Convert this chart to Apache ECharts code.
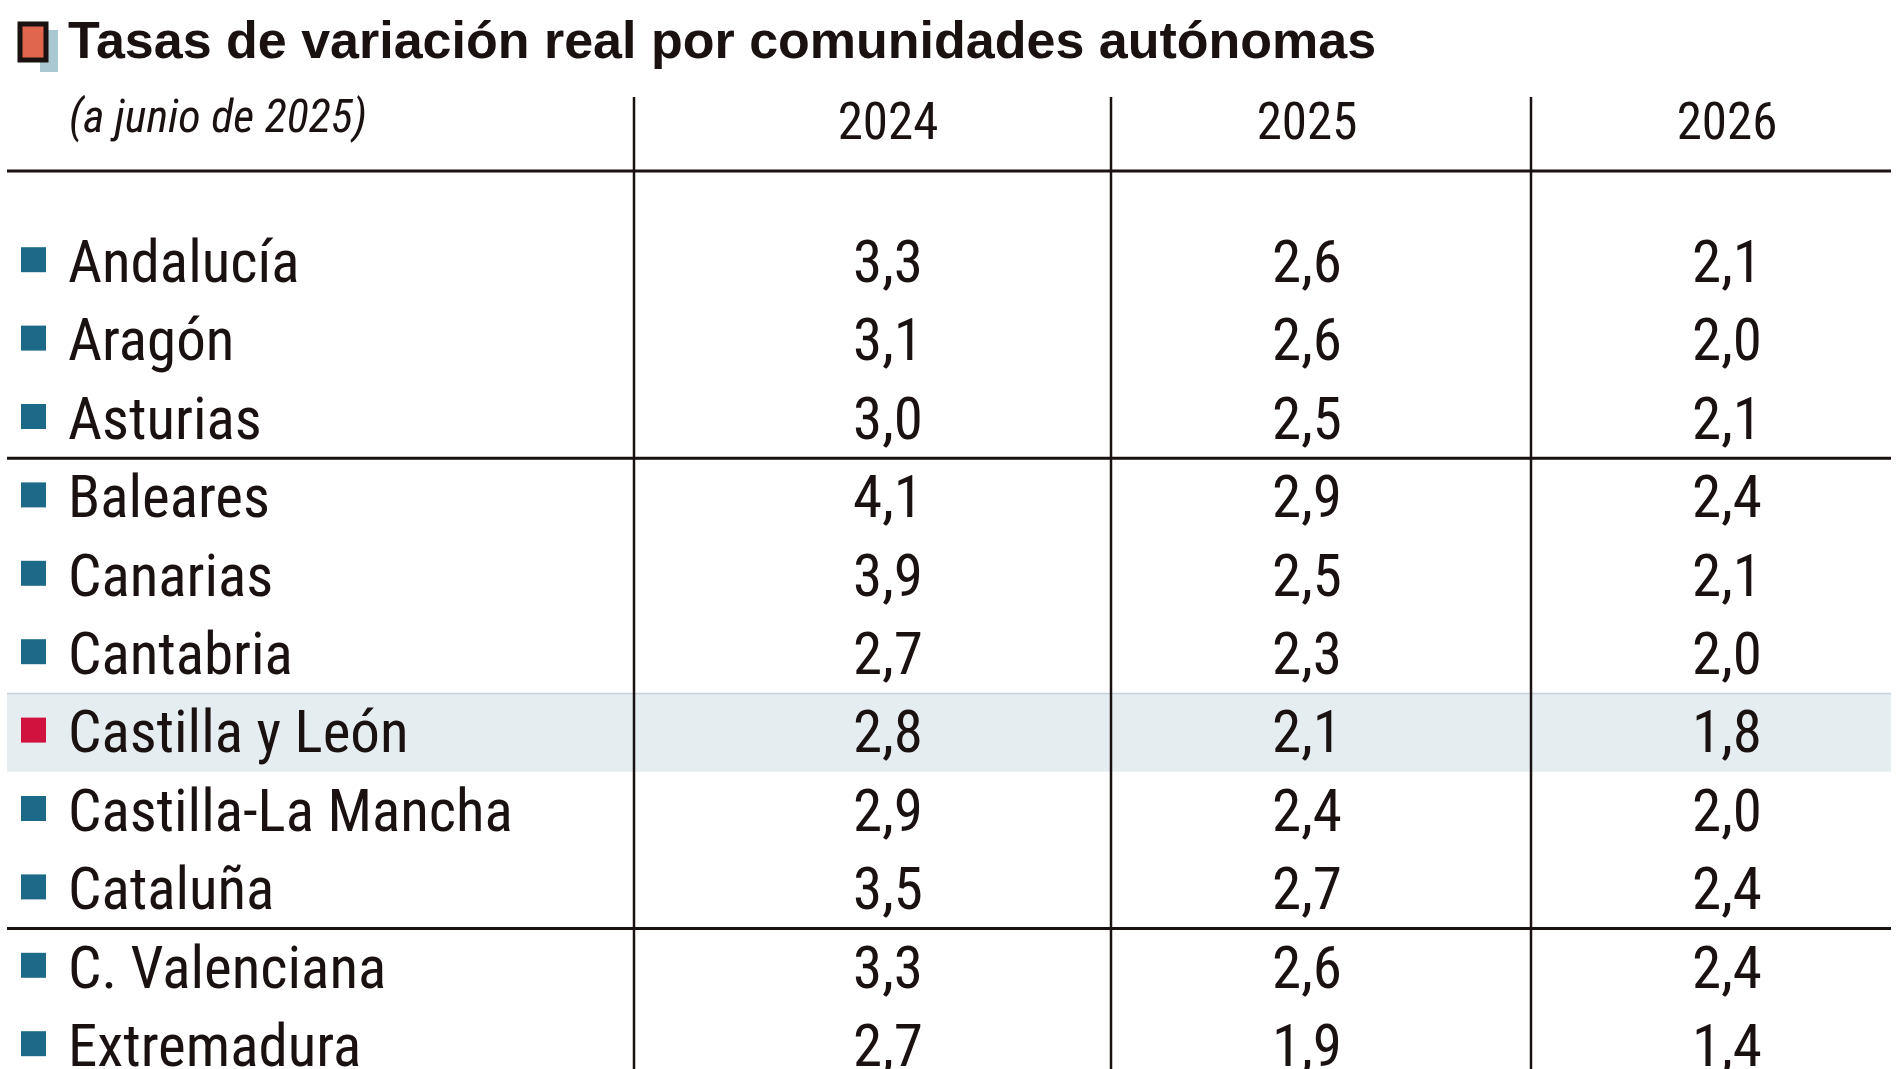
<!DOCTYPE html>
<html><head><meta charset="utf-8">
<script src="https://cdn.jsdelivr.net/npm/echarts@6/dist/echarts.min.js"></script>
<style>html,body{margin:0;padding:0;background:#fff}#c{width:1900px;height:1069px}</style>
</head><body><div id="c"></div>
<script>
const regions = ['Andalucía','Aragón','Asturias','Baleares','Canarias','Cantabria','Castilla y León','Castilla-La Mancha','Cataluña','C. Valenciana','Extremadura'];
const years = ['2024','2025','2026'];
const v2024 = ['3,3','3,1','3,0','4,1','3,9','2,7','2,8','2,9','3,5','3,3','2,7'];
const v2025 = ['2,6','2,6','2,5','2,9','2,5','2,3','2,1','2,4','2,7','2,6','1,9'];
const v2026 = ['2,1','2,0','2,1','2,4','2,1','2,0','1,8','2,0','2,4','2,4','1,4'];
const highlight = 'Castilla y León';
const groupEnds = [2, 8];

const FONT = '"Roboto Condensed","Liberation Sans Narrow","Liberation Sans",Arial,sans-serif';
const colX = [888, 1307, 1727];
const lineX = [634, 1111, 1531];
const chart = echarts.init(document.getElementById('c'));
const cols = [v2024, v2025, v2026];
const data = regions.map((r, i) => [0, i]);

chart.setOption({
  animation: false,
  grid: {left: 0, right: 0, top: 223, bottom: 0},
  xAxis: {type: 'value', min: 0, max: 1900, show: false},
  yAxis: {type: 'value', min: -0.5, max: -0.5 + 846 / 78.4, inverse: true, show: false},
  graphic: [
    {type: 'rect', shape: {x: 40, y: 30, width: 18, height: 42}, style: {fill: '#a9c8d2'}},
    {type: 'rect', shape: {x: 20, y: 24, width: 26, height: 36}, style: {fill: '#e0664e', stroke: '#1a1111', lineWidth: 5}},
    {type: 'text', left: 68, top: 18, style: {text: 'Tasas de variación real por comunidades autónomas', font: 'bold 52px "Liberation Sans",Arial,sans-serif', fill: '#1a1111'}},
    {type: 'text', left: 69, top: 97, style: {text: '(a junio de 2025)', font: 'italic 46px ' + FONT, fill: '#1a1111'}},
    ...years.map((y, k) => ({type: 'text', x: colX[k], y: 126, style: {text: y, font: '51px ' + FONT, fill: '#1a1111', align: 'center', verticalAlign: 'middle'}})),
    {type: 'line', shape: {x1: 7, y1: 171, x2: 1891, y2: 171}, style: {stroke: '#1a1111', lineWidth: 3}},
    ...lineX.map(x => ({type: 'line', z: 10, shape: {x1: x, y1: 97, x2: x, y2: 1069}, style: {stroke: '#1a1111', lineWidth: 2.5}}))
  ],
  series: [{
    type: 'custom',
    data: data,
    clip: false,
    renderItem: function (params, api) {
      const i = api.value(1);
      const cy = api.coord([0, i])[1];
      const band = api.size([0, 1])[1];
      const children = [];
      const isH = regions[i] === highlight;
      if (isH) children.push({type: 'rect', shape: {x: 7, y: cy - band / 2, width: 1884, height: band}, style: {fill: '#e6edf1'}});
      if (isH) children.push({type: 'line', shape: {x1: 7, y1: cy - band / 2, x2: 1891, y2: cy - band / 2}, style: {stroke: '#c7d3da', lineWidth: 1.5}});
      children.push({type: 'rect', shape: {x: 21, y: cy - 15, width: 25, height: 25}, style: {fill: isH ? '#d1123f' : '#1c6a88'}});
      children.push({type: 'text', x: 68, y: cy + 5, style: {text: regions[i], font: '59px ' + FONT, fill: '#1a1111', verticalAlign: 'middle'}});
      cols.forEach((c, k) => children.push({type: 'text', x: colX[k], y: cy + 5, style: {text: c[i], font: '59px ' + FONT, fill: '#1a1111', align: 'center', verticalAlign: 'middle'}}));
      if (groupEnds.includes(i)) children.push({type: 'line', shape: {x1: 7, y1: cy + band / 2, x2: 1891, y2: cy + band / 2}, style: {stroke: '#1a1111', lineWidth: 3}});
      return {type: 'group', children: children};
    }
  }]
});
</script></body></html>
